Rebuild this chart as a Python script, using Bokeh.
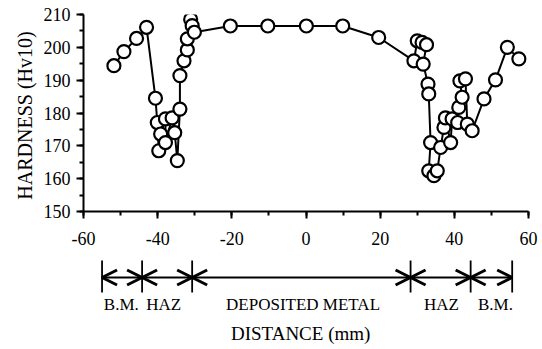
from bokeh.plotting import figure
from bokeh.layouts import column
from bokeh.models import SingleIntervalTicker, Range1d, Arrow, OpenHead, CustomJSTickFormatter
from bokeh.core.properties import value
from bokeh.embed import file_html
from bokeh.resources import INLINE

# hardness traverse data (distance mm, hardness Hv10)
distance = [-51.8, -49.1, -45.7, -43.0, -40.6, -40.1, -39.7, -39.2, -37.9, -37.9,
            -36.1, -35.4, -34.7, -34.0, -34.0, -32.9, -32.0, -32.0, -31.1, -30.7,
            -30.1, -20.4, -10.3, 0.1, 9.9, 19.6,
            29.1, 30.0, 31.3, 32.5, 31.6, 32.9, 33.1, 33.6, 33.1, 34.5, 35.4, 36.3,
            37.2, 37.6, 39.0, 39.4, 40.9, 41.2, 42.1, 41.5, 43.0, 43.5, 44.8,
            48.0, 51.1, 54.3, 57.4]
hardness = [194.4, 198.7, 202.7, 206.1, 184.5, 177.1, 168.5, 173.6, 178.2, 171.0,
            178.5, 174.0, 165.5, 181.2, 191.4, 195.9, 199.2, 202.6, 208.5, 206.6,
            204.6, 206.5, 206.5, 206.5, 206.5, 203.0,
            195.9, 202.0, 201.5, 200.8, 194.9, 188.8, 185.8, 171.0, 162.4, 160.9, 162.4, 169.5,
            175.6, 178.5, 171.0, 178.2, 177.1, 181.7, 184.8, 189.8, 190.4, 176.6, 174.6,
            184.3, 190.1, 200.0, 196.5]

# zone annotation
zone_edges = [-55.0, -44.2, -30.7, 28.2, 44.4, 55.6]
zone_labels = ["B.M.", "HAZ", "DEPOSITED METAL", "HAZ", "B.M."]
zone_label_x = [-49.8, -38.4, -0.8, 36.5, 51.1]

FONT = "Liberation Serif"

p = figure(width=542, height=255, x_range=Range1d(-60, 60), y_range=Range1d(150, 210),
           output_backend="svg", toolbar_location=None,
           min_border_left=83, min_border_right=14, min_border_top=14, min_border_bottom=44)
p.grid.visible = False
p.outline_line_color = None
p.background_fill_color = "white"
p.border_fill_color = "white"

p.line(distance, hardness, line_color="black", line_width=2)
p.scatter(distance, hardness, size=13, fill_color="white", line_color="black", line_width=2.2)

p.xaxis.ticker = SingleIntervalTicker(interval=20, num_minor_ticks=2)
p.yaxis.ticker = SingleIntervalTicker(interval=10, num_minor_ticks=2)
p.xaxis.formatter = CustomJSTickFormatter(code="return String(tick);")
for ax in (p.xaxis, p.yaxis):
    ax.axis_line_width = 2
    ax.axis_line_color = "black"
    ax.major_tick_line_width = 2
    ax.minor_tick_line_width = 2
    ax.major_tick_line_color = "black"
    ax.minor_tick_line_color = "black"
    ax.major_tick_in = 0
    ax.minor_tick_in = 0
    ax.major_tick_out = 7
    ax.minor_tick_out = 4
    ax.major_label_text_font = FONT
    ax.major_label_text_font_size = "18px"
    ax.major_label_text_color = "black"
p.xaxis.major_label_standoff = 13
p.yaxis.major_label_standoff = 6
p.yaxis.axis_label = "HARDNESS  (Hv10)"
p.yaxis.axis_label_text_font = FONT
p.yaxis.axis_label_text_font_style = "normal"
p.yaxis.axis_label_text_font_size = "20px"
p.yaxis.axis_label_text_color = "black"
p.yaxis.axis_label_standoff = 5

# annotation strip below
p2 = figure(width=542, height=94, x_range=p.x_range, y_range=Range1d(94, 0),
            output_backend="svg", toolbar_location=None,
            x_axis_location=None, y_axis_location=None,
            min_border_left=83, min_border_right=14, min_border_top=0, min_border_bottom=0)
p2.grid.visible = False
p2.outline_line_color = None
p2.background_fill_color = "white"
p2.border_fill_color = "white"

p2.segment(x0=zone_edges, y0=[5] * len(zone_edges), x1=zone_edges, y1=[37] * len(zone_edges),
           line_color="black", line_width=1.8)
for a, b in zip(zone_edges[:-1], zone_edges[1:]):
    p2.add_layout(Arrow(start=OpenHead(size=15, line_width=3, line_color="black"),
                        end=OpenHead(size=15, line_width=3, line_color="black"),
                        x_start=a, y_start=22, x_end=b, y_end=22,
                        line_color="black", line_width=1.8))
p2.text(x=zone_label_x, y=[49] * len(zone_label_x), text=zone_labels,
        text_font=value(FONT), text_font_size="17px", text_align="center",
        text_baseline="middle", text_color="black")
p2.text(x=[-0.8], y=[78], text=["DISTANCE  (mm)"], text_font=value(FONT),
        text_font_size="19px", text_align="center", text_baseline="middle",
        text_color="black")

layout = column(p, p2, spacing=0)
open("out.html", "w").write(file_html(layout, INLINE))
